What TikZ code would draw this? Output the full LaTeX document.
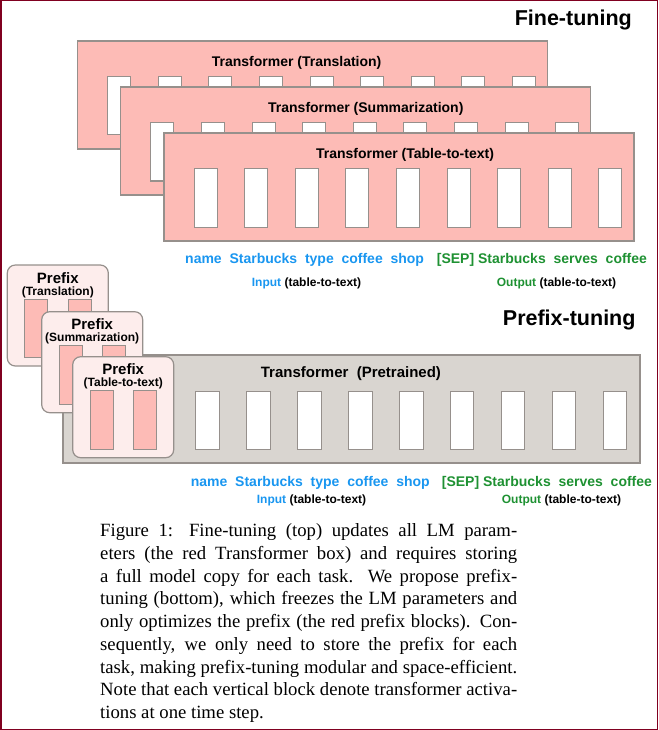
\documentclass[tikz,border=0pt]{standalone}
\usepackage{fontspec}
\setmainfont{Liberation Serif}
\setsansfont{Liberation Sans}
\usepackage{tikz}
\usetikzlibrary{positioning}
\usepackage{xcolor}

\definecolor{ftpink}{RGB}{253,187,182}
\definecolor{edgegray}{RGB}{150,144,140}
\definecolor{ptgray}{RGB}{217,213,208}
\definecolor{preflight}{RGB}{253,237,236}
\definecolor{inblue}{RGB}{25,150,240}
\definecolor{outgreen}{RGB}{30,145,50}
\definecolor{framered}{RGB}{128,0,32}

\begin{document}
\begin{tikzpicture}[x=1pt, y=-1pt,
  frame/.style={draw=framered, line width=1.5pt},
  ftbox/.style={fill=ftpink, draw=edgegray, line width=1.2pt},
  ptbox/.style={fill=ptgray, draw=edgegray, line width=1.2pt},
  actblock/.style={fill=white, draw=edgegray, line width=1pt},
  prefbox/.style={fill=preflight, draw=edgegray, line width=1.2pt, rounded corners=8pt},
  prefblock/.style={fill=ftpink, draw=edgegray, line width=1pt},
  bigtitle/.style={inner sep=0pt, font=\fontsize{21.5}{24}\selectfont\sffamily\bfseries},
  boxtitle/.style={inner sep=0pt, font=\fontsize{14}{16}\selectfont\sffamily\bfseries},
  prefhead/.style={inner sep=0pt, font=\fontsize{15}{17}\selectfont\sffamily\bfseries},
  prefsub/.style={inner sep=0pt, font=\fontsize{12}{14}\selectfont\sffamily\bfseries},
  wordrow/.style={inner sep=0pt, font=\fontsize{14}{16}\selectfont\sffamily\bfseries},
  subrow/.style={inner sep=0pt, font=\fontsize{12}{14}\selectfont\sffamily\bfseries},
  captext/.style={inner sep=0pt, text width=417pt, align=justify,
    font=\fontsize{18.7}{22.7}\selectfont}]

\useasboundingbox (0,0) rectangle (658,730);
\draw[frame] (0.75,0.75) rectangle (657.25,729.25);

\begin{scope}
%%%%%%%%%%%%    Fine-tuning: one full transformer per task   %%%%%%%%%%%%
\node[bigtitle, anchor=base east] (ft-title) at (632,25.7) {Fine-tuning};

\foreach \i/\task/\titlex in {0/Translation/219, 1/Summarization/245, 2/Table-to-text/241}{
  \draw[ftbox] (77.6+43.2*\i,41+46*\i) rectangle ++(470,108);
  \node[boxtitle, anchor=base] (ft-box-\i) at (77.6+43.2*\i+\titlex,41+46*\i+25.5) {Transformer (\task)};
  \foreach \k in {0,...,8}
    \draw[actblock] (107.6+43.2*\i+50.6*\k,77+46*\i) rectangle ++(23,58);
}

% tokens
\node[wordrow, text=inblue, anchor=base west] (ft-in-words) at (185,263.5) {name\ \ Starbucks\ \ type\ \ coffee\ \ shop};
\node[wordrow, text=outgreen, anchor=base west] (ft-out-words) at (436.7,263.5) {[SEP] Starbucks\ \ serves\ \ coffee};
\node[subrow, anchor=base west] (ft-in-tag) at (251.7,286) {\textcolor{inblue}{Input} (table-to-text)};
\node[subrow, anchor=base west] (ft-out-tag) at (496.7,286) {\textcolor{outgreen}{Output} (table-to-text)};
\end{scope}

\begin{scope}
%%%%%%%%%%%%    Prefix-tuning: frozen transformer, one prefix per task   %%%%%%%%%%%%
\node[bigtitle, anchor=base east] (pt-title) at (635.7,325) {Prefix-tuning};

\draw[ptbox] (63,355) rectangle (640,463);
\node[boxtitle, font=\fontsize{15}{17}\selectfont\sffamily\bfseries, anchor=base west] (pt-box) at (260.7,377.7) {Transformer\ \ (Pretrained)};
\foreach \k in {0,...,8}
  \draw[actblock] (195.7+50.95*\k,391) rectangle ++(23.5,58);

% prefixes
\foreach \px/\py/\task in {7.3/265/Translation, 41.7/311.7/Summarization, 72.7/356.7/Table-to-text}{
  \draw[prefbox] (\px,\py) rectangle ++(101,101);
  \node[prefhead, anchor=base] (pref-\task) at (\px+50.5,\py+18) {Prefix};
  \node[prefsub, anchor=base] (pref-\task-sub) at (\px+50.5,\py+30) {(\task)};
  \draw[prefblock] (\px+17.5,\py+34) rectangle ++(23,58.5);
  \draw[prefblock] (\px+61,\py+34) rectangle ++(23,58.5);
}

% tokens
\node[wordrow, text=inblue, anchor=base west] (pt-in-words) at (190.7,486) {name\ \ Starbucks\ \ type\ \ coffee\ \ shop};
\node[wordrow, text=outgreen, anchor=base west] (pt-out-words) at (441.7,486) {[SEP] Starbucks\ \ serves\ \ coffee};
\node[subrow, anchor=base west] (pt-in-tag) at (256.7,503.3) {\textcolor{inblue}{Input} (table-to-text)};
\node[subrow, anchor=base west] (pt-out-tag) at (501.7,503.3) {\textcolor{outgreen}{Output} (table-to-text)};
\end{scope}

% caption
\node[captext, anchor=north west] (caption) at (100,523.7) {\hyphenpenalty=10000 \exhyphenpenalty=10000
Figure 1: Fine-tuning (top) updates all LM param-\linebreak eters (the red Transformer box) and requires storing\linebreak
a full model copy for each task. We propose prefix-\linebreak tuning (bottom), which freezes the LM parameters and\linebreak
only optimizes the prefix (the red prefix blocks). Con-\linebreak sequently, we only need to store the prefix for each\linebreak
task, making prefix-tuning modular and space-efficient.\linebreak
Note that each vertical block denote transformer activa-\linebreak tions at one time step.};

\end{tikzpicture}
\end{document}
